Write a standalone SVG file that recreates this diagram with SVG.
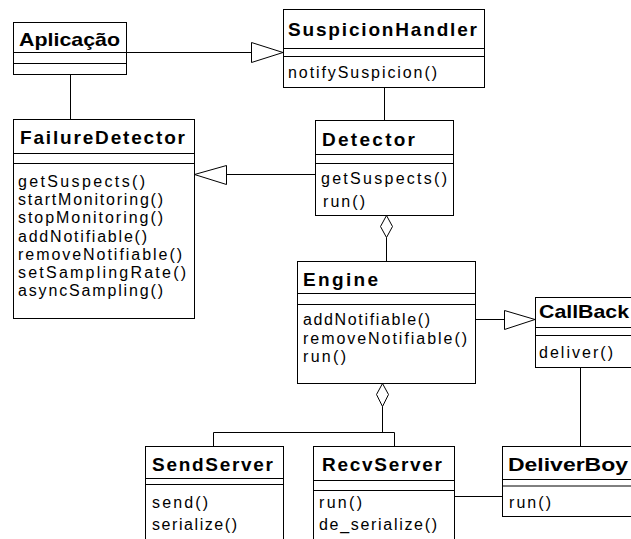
<svg xmlns="http://www.w3.org/2000/svg" width="631" height="539" viewBox="0 0 631 539">
<style>
.box{fill:#fff;stroke:#000;stroke-width:1}
.ln{fill:none;stroke:#000;stroke-width:1}
.tri{fill:#fff;stroke:#000;stroke-width:1}
.nm{font-family:"Liberation Sans",Arial,sans-serif;font-weight:bold;font-size:19px;fill:#000}
.mt{font-family:"Liberation Sans",Arial,sans-serif;font-size:16px;fill:#000}
</style>
<rect width="631" height="539" fill="#fff"/>
<g id="connectors">
<path class="ln" d="M126.5 52.5H251"/>
<polygon class="tri" points="251.5,42.5 251.5,62.5 283,52.5"/>
<path class="ln" d="M70.5 74V119"/>
<path class="ln" d="M384.5 87V120"/>
<path class="ln" d="M315 174.5H226"/>
<polygon class="tri" points="226.5,165.5 226.5,184.5 194.5,174.5"/>
<polygon class="tri" points="386.5,215.5 392.5,226.5 386.5,237.5 380.5,226.5"/>
<path class="ln" d="M386.5 237.5V261"/>
<path class="ln" d="M475 319.5H504"/>
<polygon class="tri" points="504.5,310.5 504.5,329.5 535,319.5"/>
<polygon class="tri" points="382.5,383.5 388.5,394.5 382.5,406.5 376.5,394.5"/>
<path class="ln" d="M382.5 406.5V432.5M213.5 446V432.5H394.5V446"/>
<path class="ln" d="M454 496.5H502"/>
<path class="ln" d="M580.5 367V446"/>
</g>
<g id="Aplicacao">
<rect class="box" x="13.5" y="22.5" width="113" height="52"/>
<path class="ln" d="M13.5 52.5H126.5M13.5 63.5H126.5"/>
<text class="nm" x="19" y="46" textLength="101" lengthAdjust="spacingAndGlyphs">Aplicação</text>
</g>
<g id="SuspicionHandler">
<rect class="box" x="283.5" y="9.5" width="201" height="78"/>
<path class="ln" d="M283.5 48.5H484.5M283.5 56.5H484.5"/>
<text class="nm" x="288" y="36" textLength="189" lengthAdjust="spacing">SuspicionHandler</text>
<text class="mt" x="288" y="78" textLength="149" lengthAdjust="spacing">notifySuspicion()</text>
</g>
<g id="Detector">
<rect class="box" x="315.5" y="120.5" width="138" height="95"/>
<path class="ln" d="M315.5 154.5H453.5M315.5 163.5H453.5"/>
<text class="nm" x="322" y="146" textLength="93" lengthAdjust="spacing">Detector</text>
<text class="mt" x="321" y="184" textLength="126" lengthAdjust="spacing">getSuspects()</text>
<text class="mt" x="323" y="207" textLength="42" lengthAdjust="spacing">run()</text>
</g>
<g id="FailureDetector">
<rect class="box" x="13.5" y="119.5" width="181" height="199"/>
<path class="ln" d="M13.5 153.5H194.5M13.5 163.5H194.5"/>
<text class="nm" x="20" y="144" textLength="165" lengthAdjust="spacing">FailureDetector</text>
<text class="mt" x="18" y="187" textLength="127" lengthAdjust="spacing">getSuspects()</text>
<text class="mt" x="18" y="205.2" textLength="145" lengthAdjust="spacing">startMonitoring()</text>
<text class="mt" x="18" y="223.4" textLength="145" lengthAdjust="spacing">stopMonitoring()</text>
<text class="mt" x="18" y="241.6" textLength="129" lengthAdjust="spacing">addNotifiable()</text>
<text class="mt" x="18" y="259.8" textLength="164" lengthAdjust="spacing">removeNotifiable()</text>
<text class="mt" x="18" y="278" textLength="168" lengthAdjust="spacing">setSamplingRate()</text>
<text class="mt" x="18" y="296.2" textLength="145" lengthAdjust="spacing">asyncSampling()</text>
</g>
<g id="Engine">
<rect class="box" x="297.5" y="261.5" width="178" height="122"/>
<path class="ln" d="M297.5 293.5H475.5M297.5 304.5H475.5"/>
<text class="nm" x="303" y="286" textLength="75" lengthAdjust="spacing">Engine</text>
<text class="mt" x="303" y="325" textLength="127" lengthAdjust="spacing">addNotifiable()</text>
<text class="mt" x="303" y="343.5" textLength="164" lengthAdjust="spacing">removeNotifiable()</text>
<text class="mt" x="303" y="362" textLength="43" lengthAdjust="spacing">run()</text>
</g>
<g id="CallBack">
<rect class="box" x="535.5" y="297.5" width="110" height="70"/>
<path class="ln" d="M535.5 327.5H645M535.5 335.5H645"/>
<text class="nm" x="539" y="318" textLength="90" lengthAdjust="spacingAndGlyphs">CallBack</text>
<text class="mt" x="539" y="358" textLength="74" lengthAdjust="spacing">deliver()</text>
</g>
<g id="SendServer">
<rect class="box" x="145.5" y="446.5" width="138" height="100"/>
<path class="ln" d="M145.5 478.5H283.5M145.5 484.5H283.5"/>
<text class="nm" x="152" y="471" textLength="121" lengthAdjust="spacing">SendServer</text>
<text class="mt" x="152" y="508" textLength="56" lengthAdjust="spacing">send()</text>
<text class="mt" x="152" y="530" textLength="85" lengthAdjust="spacing">serialize()</text>
</g>
<g id="RecvServer">
<rect class="box" x="313.5" y="446.5" width="141" height="100"/>
<path class="ln" d="M313.5 480.5H454.5M313.5 490.5H454.5"/>
<text class="nm" x="322" y="471" textLength="120" lengthAdjust="spacing">RecvServer</text>
<text class="mt" x="319" y="508" textLength="43" lengthAdjust="spacing">run()</text>
<text class="mt" x="319" y="530" textLength="118" lengthAdjust="spacing">de_serialize()</text>
</g>
<g id="DeliverBoy">
<rect class="box" x="502.5" y="446.5" width="140" height="70"/>
<path class="ln" d="M502.5 479.5H645"/>
<path class="ln" stroke-width="2" d="M502.5 486H645"/>
<text class="nm" x="508" y="471" textLength="120" lengthAdjust="spacingAndGlyphs">DeliverBoy</text>
<text class="mt" x="509" y="508" textLength="42" lengthAdjust="spacing">run()</text>
</g>
</svg>
